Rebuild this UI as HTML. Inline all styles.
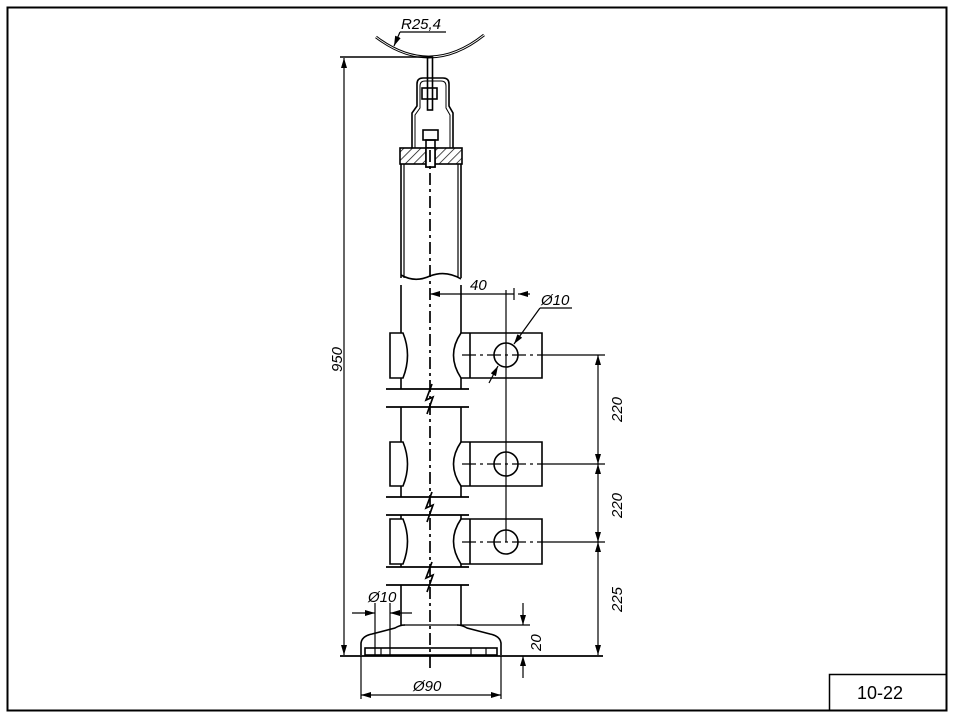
<!DOCTYPE html>
<html><head><meta charset="utf-8"><style>
html,body{margin:0;padding:0;background:#fff;}
svg{display:block;}
text{font-family:"Liberation Sans",sans-serif;font-style:italic;font-size:15px;fill:#000;}
</style></head><body>
<svg width="957" height="719" viewBox="0 0 957 719" xmlns="http://www.w3.org/2000/svg">
<defs>
<pattern id="h" width="6" height="6" patternUnits="userSpaceOnUse" patternTransform="rotate(45)">
<line x1="0" y1="0" x2="0" y2="6" stroke="#000" stroke-width="1.4"/></pattern>
<marker id="a" markerWidth="10" markerHeight="6" refX="10" refY="3" orient="auto-start-reverse" markerUnits="userSpaceOnUse"><path d="M0,0 L10,3 L0,6z" fill="#000"/></marker>
</defs>
<g fill="none" stroke="#000" stroke-width="1.6">
<rect x="7.5" y="7.5" width="939" height="703" stroke-width="2"/>
<rect x="829.5" y="674.5" width="117" height="36" stroke-width="1.5"/>
<path d="M376,37 Q430,78 484,35" stroke-width="2.8"/>
<path d="M376,37 Q430,78 484,35" stroke="#fff" stroke-width="0.8"/>
<line x1="400" y1="32" x2="446" y2="32" stroke-width="1.2"/>
<line x1="400" y1="32" x2="394" y2="46" stroke-width="1.2" marker-end="url(#a)"/>
<line x1="340" y1="57" x2="430" y2="57"/>
<line x1="344" y1="58" x2="344" y2="655" marker-start="url(#a)" marker-end="url(#a)" stroke-width="1.2"/>
<rect x="427.5" y="57" width="5" height="53"/>
<path d="M412,148 V113 L417,106 V84 Q417,78 423,78 H443 Q449,78 449,84 V106 L453,113 V148"/>
<path d="M415,148 V115 L420,108 V86 Q420,81 425,81 H441 Q446,81 446,86 V108 L450,115 V148" stroke-width="1"/>
<rect x="422" y="88" width="15" height="11"/>
<rect x="423" y="130" width="15" height="10"/>
<rect x="426" y="140" width="9" height="27"/>
<rect x="400" y="148" width="62" height="16" fill="url(#h)"/>
<rect x="426" y="148" width="9" height="19" fill="#fff"/>
<line x1="401" y1="164" x2="401" y2="278"/><line x1="404" y1="164" x2="404" y2="278" stroke-width="1.2"/>
<line x1="461" y1="164" x2="461" y2="278"/><line x1="458" y1="164" x2="458" y2="278" stroke-width="1.2"/>
<path d="M401,275 Q415,283 430,276 Q446,270 461,279"/>
<line x1="401" y1="285" x2="401" y2="389"/><line x1="461" y1="285" x2="461" y2="389"/>
<line x1="401" y1="407" x2="401" y2="497"/><line x1="461" y1="407" x2="461" y2="497"/>
<line x1="401" y1="515" x2="401" y2="567"/><line x1="461" y1="515" x2="461" y2="567"/>
<line x1="401" y1="585" x2="401" y2="625"/><line x1="461" y1="585" x2="461" y2="625"/>
<g stroke-width="1.7">
<line x1="386" y1="389" x2="469" y2="389"/><line x1="386" y1="407" x2="469" y2="407"/>
<line x1="386" y1="497" x2="469" y2="497"/><line x1="386" y1="515" x2="469" y2="515"/>
<line x1="386" y1="567" x2="469" y2="567"/><line x1="386" y1="585" x2="469" y2="585"/>
<path d="M432,384 L426,400 L433,397 L427,414"/>
<path d="M432,492 L426,508 L433,505 L427,522"/>
<path d="M432,562 L426,578 L433,575 L427,592"/>
</g>
<g fill="#fff">
<path d="M390,333 H403 Q412,355 403,378 H390 Z"/>
<path d="M542,333 H461 Q446,355 461,378 H542 Z"/><line x1="470" y1="333" x2="470" y2="378"/>
<path d="M390,442 H403 Q412,464 403,486 H390 Z"/>
<path d="M542,442 H461 Q446,464 461,486 H542 Z"/><line x1="470" y1="442" x2="470" y2="486"/>
<path d="M390,519 H403 Q412,541 403,564 H390 Z"/>
<path d="M542,519 H461 Q446,541 461,564 H542 Z"/><line x1="470" y1="519" x2="470" y2="564"/>
</g>
<circle cx="506" cy="355" r="12"/><circle cx="506" cy="464" r="12"/><circle cx="506" cy="542" r="12"/>
<g stroke-width="1.2" stroke-dasharray="14,4,3,4">
<line x1="462" y1="355" x2="542" y2="355"/><line x1="462" y1="464" x2="542" y2="464"/><line x1="462" y1="542" x2="542" y2="542"/>
</g>
<line x1="430" y1="150" x2="430" y2="668" stroke-dasharray="12,4,3,4" stroke-width="1.7"/>
<line x1="506" y1="290" x2="506" y2="542" stroke-width="1.2"/>
<line x1="514" y1="288" x2="514" y2="300" stroke-width="1.2"/>
<line x1="430" y1="294" x2="514" y2="294" marker-start="url(#a)" stroke-width="1.2"/>
<line x1="530" y1="294" x2="518" y2="294" marker-end="url(#a)" stroke-width="1.2"/>
<line x1="540" y1="308" x2="572" y2="308" stroke-width="1.2"/>
<line x1="540" y1="308" x2="514" y2="344" stroke-width="1.2" marker-end="url(#a)"/>
<line x1="489" y1="383" x2="498" y2="366" stroke-width="1.2" marker-end="url(#a)"/>
<g stroke-width="1.2">
<line x1="542" y1="355" x2="605" y2="355"/><line x1="542" y1="464" x2="605" y2="464"/><line x1="542" y1="542" x2="605" y2="542"/>
<line x1="598" y1="355" x2="598" y2="464" marker-start="url(#a)" marker-end="url(#a)"/>
<line x1="598" y1="464" x2="598" y2="542" marker-start="url(#a)" marker-end="url(#a)"/>
<line x1="598" y1="542" x2="598" y2="655" marker-start="url(#a)" marker-end="url(#a)"/>
</g>
<line x1="401" y1="625" x2="530" y2="625" stroke-width="1.2"/>
<path d="M361,655 V643 Q362,636 372,634 L395,628 Q400,625 405,625"/>
<path d="M501,655 V643 Q500,636 490,634 L467,628 Q462,625 457,625"/>
<rect x="365" y="648" width="132" height="7"/>
<line x1="340" y1="656" x2="603" y2="656" stroke-width="1.7"/>
<g stroke-width="1.2">
<line x1="375" y1="603" x2="375" y2="655"/><line x1="390" y1="603" x2="390" y2="655"/>
<line x1="381" y1="648" x2="381" y2="655"/><line x1="471" y1="648" x2="471" y2="655"/><line x1="486" y1="648" x2="486" y2="655"/>
<line x1="352" y1="613" x2="375" y2="613" marker-end="url(#a)"/>
<line x1="412" y1="613" x2="390" y2="613" marker-end="url(#a)"/>
<line x1="361" y1="656" x2="361" y2="699"/><line x1="501" y1="656" x2="501" y2="699"/>
<line x1="361" y1="695" x2="501" y2="695" marker-start="url(#a)" marker-end="url(#a)"/>
<line x1="523" y1="603" x2="523" y2="625" marker-end="url(#a)"/>
<line x1="523" y1="678" x2="523" y2="656" marker-end="url(#a)"/>
</g>
</g>
<text x="401" y="29">R25,4</text>
<text x="470" y="290">40</text>
<text x="541" y="305">Ø10</text>
<text x="368" y="602">Ø10</text>
<text x="413" y="691">Ø90</text>
<text transform="translate(342,372) rotate(-90)">950</text>
<text transform="translate(622,422) rotate(-90)">220</text>
<text transform="translate(622,518) rotate(-90)">220</text>
<text transform="translate(622,612) rotate(-90)">225</text>
<text transform="translate(541,651) rotate(-90)">20</text>
<text x="857" y="699" style="font-style:normal;font-size:18px">10-22</text>
</svg>
</body></html>
